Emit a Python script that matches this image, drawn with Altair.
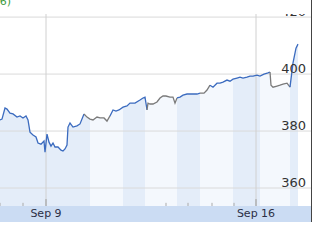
import altair as alt
import pandas as pd

# hours since Sep 9 00:00
hours = [-36.8, -35.2, -32.8, -31.2, -28.8, -26.4, -23.2, -20.8, -18.4, -16.0,
         -14.4, -12.8, -10.4, -8.0, -6.4, -4.0, -1.6, -0.8, 0.8, 2.4,
         4.0, 5.6, 7.2, 9.6, 12.0, 13.6, 15.2, 16.8, 17.6, 19.2,
         21.6, 24.8, 27.2, 30.4, 32.8, 35.2, 37.6, 40.8, 43.2, 46.4,
         48.8, 51.2, 53.6, 56.0, 58.4, 61.6, 64.8, 67.2, 71.2, 75.2,
         77.6, 79.2, 80.8, 81.6, 83.2, 85.6, 88.8, 91.2, 93.6, 96.0,
         99.2, 101.6, 103.2, 104.8, 107.2, 109.6, 112.8, 115.2, 118.4, 120.8,
         123.2, 126.4, 128.8, 131.2, 133.6, 136.8, 139.2, 141.6, 144.8, 147.2,
         149.6, 152.8, 155.2, 157.6, 160.8, 163.2, 165.6, 168.8, 171.2, 174.4,
         177.6, 179.2, 180.0, 181.6, 184.8, 187.2, 189.6, 192.8, 195.2, 197.6,
         200.0, 201.6]
price = [383.9, 384.2, 388.1, 387.7, 386.3, 386.0, 384.9, 385.3, 384.6, 385.3,
         383.9, 379.6, 378.6, 377.9, 375.8, 375.4, 376.5, 372.6, 378.9, 376.1,
         374.7, 375.8, 374.4, 374.4, 373.3, 373.0, 373.7, 375.1, 381.4, 382.8,
         381.4, 381.8, 382.5, 386.0, 384.9, 384.2, 383.9, 384.9, 384.6, 384.6,
         383.5, 385.3, 387.4, 387.0, 387.4, 388.4, 388.8, 389.8, 389.8, 390.9,
         391.6, 391.9, 387.4, 389.8, 389.5, 389.5, 390.2, 391.6, 392.3, 392.3,
         391.9, 391.9, 389.8, 391.6, 391.9, 392.6, 393.0, 393.0, 393.0, 393.0,
         393.3, 393.3, 394.4, 396.1, 395.4, 396.8, 396.8, 397.2, 397.9, 397.5,
         398.2, 398.6, 398.9, 398.6, 398.9, 399.3, 399.3, 399.6, 399.3, 400.0,
         400.4, 400.7, 396.1, 395.4, 395.8, 396.1, 396.5, 396.8, 395.4, 403.9,
         409.1, 410.5]

# line colouring sessions: (end hour, kind)
line_ends = [28.8, 51.2, 80.8, 104.8, 123.2, 130.4, 179.2, 195.2, 1e9]
line_kinds = ["reg", "ext", "reg", "ext", "reg", "ext", "reg", "ext", "reg"]
# shaded fill columns
band_ends = [35.2, 61.6, 79.2, 104.8, 123.2, 149.6, 171.2, 195.2, 1e9]
band_kinds = ["dark", "light", "dark", "light", "dark", "light", "dark", "light", "dark"]

y_ticks = [420, 400, 380, 360]
x_label_hours = [0, 168]
x_labels = ["Sep 9", "Sep 16"]
minor_tick_hours = [-36.8, -18.4, 96, 113.6, 132.8, 150.4]

X_MIN, X_MAX = -36.8, 212.8
Y_MIN, Y_MAX = 348.07, 426.0
BAND_TOP = 353.69


def kind_at(h, ends, kinds):
    for e, k in zip(ends, kinds):
        if h <= e:
            return k
    return kinds[-1]


def runs(ends, kinds):
    rows = []
    run = -1
    prev = None
    for i in range(len(hours) - 1):
        k = kind_at((hours[i] + hours[i + 1]) / 2, ends, kinds)
        if k != prev:
            run += 1
            rows.append(dict(h=hours[i], p=price[i], run=run, kind=k))
            prev = k
        rows.append(dict(h=hours[i + 1], p=price[i + 1], run=run, kind=k))
    return pd.DataFrame(rows)


line_df = runs(line_ends, line_kinds)
area_df = runs(band_ends, band_kinds)

xs = alt.Scale(domain=[X_MIN, X_MAX], nice=False, zero=False)
ys = alt.Scale(domain=[Y_MIN, Y_MAX], nice=False, zero=False)

area = alt.Chart(area_df).mark_area(interpolate="linear").encode(
    x=alt.X("h:Q", scale=xs, axis=None),
    y=alt.Y("p:Q", scale=ys, axis=None, stack=None),
    detail="run:N",
    fill=alt.Fill("kind:N", scale=alt.Scale(domain=["dark", "light"],
                                            range=["#e4edf9", "#f4f8fd"]), legend=None),
)

hgrid = alt.Chart(pd.DataFrame({"v": y_ticks})).mark_rule(
    color="#dadada", strokeWidth=1).encode(y=alt.Y("v:Q", scale=ys))

vgrid = alt.Chart(pd.DataFrame({"h": x_label_hours})).mark_rule(
    color="#d0d0d0", strokeWidth=1).encode(x=alt.X("h:Q", scale=xs))

line = alt.Chart(line_df).mark_line(strokeWidth=1.3, interpolate="linear").encode(
    x=alt.X("h:Q", scale=xs),
    y=alt.Y("p:Q", scale=ys),
    detail="run:N",
    stroke=alt.Stroke("kind:N", scale=alt.Scale(domain=["reg", "ext"],
                                                range=["#3b6bbf", "#7a7a7a"]), legend=None),
)

axis_band = alt.Chart(pd.DataFrame({"a": [X_MIN], "b": [X_MAX], "c": [Y_MIN], "d": [BAND_TOP]})).mark_rect(
    color="#cbdcf3").encode(
    x=alt.X("a:Q", scale=xs), x2="b:Q", y=alt.Y("c:Q", scale=ys), y2="d:Q")

major_ticks = alt.Chart(pd.DataFrame({"h": x_label_hours, "y0": [356.1] * 2, "y1": [BAND_TOP] * 2})).mark_rule(
    color="#999999").encode(x=alt.X("h:Q", scale=xs), y=alt.Y("y0:Q", scale=ys), y2="y1:Q")

minor_ticks = alt.Chart(pd.DataFrame({"h": minor_tick_hours, "y0": [354.8] * len(minor_tick_hours),
                                      "y1": [BAND_TOP] * len(minor_tick_hours)})).mark_rule(
    color="#aaaaaa").encode(x=alt.X("h:Q", scale=xs), y=alt.Y("y0:Q", scale=ys), y2="y1:Q")

x_text = alt.Chart(pd.DataFrame({"h": x_label_hours, "t": x_labels, "y": [350.9] * 2})).mark_text(
    font="DejaVu Sans", fontSize=11, color="#2b2f45", baseline="middle", align="center").encode(
    x=alt.X("h:Q", scale=xs), y=alt.Y("y:Q", scale=ys), text="t:N")

y_text = alt.Chart(pd.DataFrame({"v": y_ticks, "t": [str(v) for v in y_ticks],
                                 "h": [208.0] * len(y_ticks)})).mark_text(
    font="DejaVu Sans", fontSize=13, color="#333333", baseline="alphabetic", align="right", dy=-1).encode(
    x=alt.X("h:Q", scale=xs), y=alt.Y("v:Q", scale=ys), text="t:N")

cover = alt.Chart(pd.DataFrame({"a": [X_MIN], "b": [X_MAX], "c": [421.1], "d": [Y_MAX]})).mark_rect(
    color="white").encode(x=alt.X("a:Q", scale=xs), x2="b:Q", y=alt.Y("c:Q", scale=ys), y2="d:Q")

header = alt.Chart(pd.DataFrame({"h": [-28.0], "y": [424.2], "t": ["(+0.56)"]})).mark_text(
    font="DejaVu Sans", fontSize=11, color="#3c9a3c", align="right", baseline="alphabetic").encode(
    x=alt.X("h:Q", scale=xs), y=alt.Y("y:Q", scale=ys), text="t:N")

border = alt.Chart(pd.DataFrame({"h": [X_MAX - 0.4]})).mark_rule(
    color="#444444", strokeWidth=1).encode(x=alt.X("h:Q", scale=xs))

chart = alt.layer(area, hgrid, vgrid, line, major_ticks, minor_ticks, axis_band, x_text, y_text,
                  cover, header, border).properties(
    width=312, height=222, padding=0, autosize=alt.AutoSizeParams(type="none"),
    background="white").configure_view(stroke=None)

chart.save("out.html", embed_options={"renderer": "svg", "actions": False})
